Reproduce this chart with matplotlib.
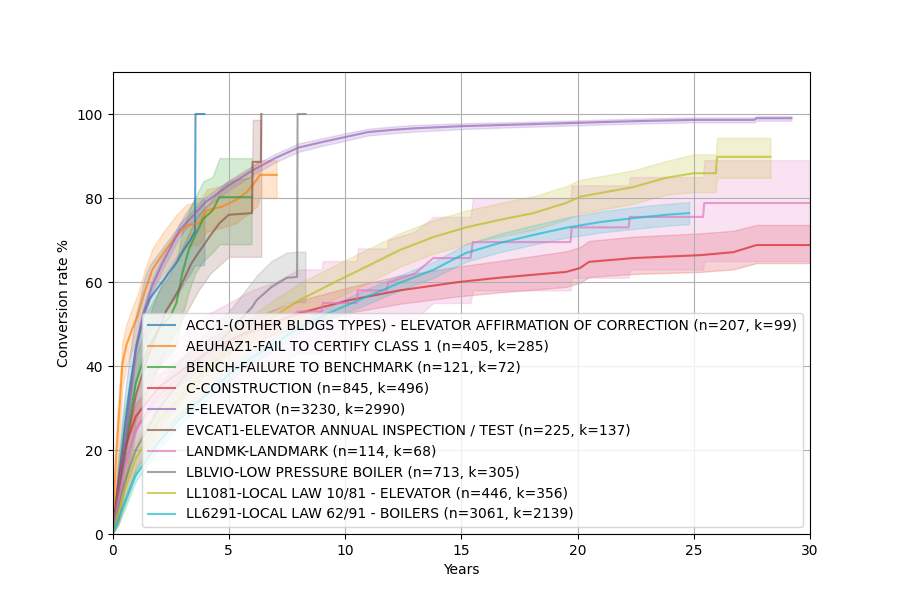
import matplotlib
matplotlib.use("Agg")
import matplotlib.pyplot as plt

labels = [
    "ACC1-(OTHER BLDGS TYPES) - ELEVATOR AFFIRMATION OF CORRECTION (n=207, k=99)",
    "AEUHAZ1-FAIL TO CERTIFY CLASS 1 (n=405, k=285)",
    "BENCH-FAILURE TO BENCHMARK (n=121, k=72)",
    "C-CONSTRUCTION (n=845, k=496)",
    "E-ELEVATOR (n=3230, k=2990)",
    "EVCAT1-ELEVATOR ANNUAL INSPECTION / TEST (n=225, k=137)",
    "LANDMK-LANDMARK (n=114, k=68)",
    "LBLVIO-LOW PRESSURE BOILER (n=713, k=305)",
    "LL1081-LOCAL LAW 10/81 - ELEVATOR (n=446, k=356)",
    "LL6291-LOCAL LAW 62/91 - BOILERS (n=3061, k=2139)",
]

# years, conversion %, lower / upper confidence band
acc1_t = [0, 0.25, 0.5, 0.75, 1.0, 1.38, 1.6, 2.0, 2.4, 2.8, 3.1, 3.35, 3.55, 3.57, 3.95]
acc1_y = [0, 12, 24, 35, 44, 53, 56, 59, 62, 65, 68, 70, 72, 100, 100]
acc1_lo = [0, 6, 16, 27, 36, 45, 48, 51, 54, 57, 60, 62, 64, 64, 64]
acc1_hi = [0, 18, 32, 43, 52, 61, 64, 67, 70, 73, 76, 78, 80, 80, 80]

aeu_t = [0, 0.15, 0.3, 0.43, 0.6, 0.86, 1.08, 1.4, 1.72, 2.2, 2.75, 3.2, 3.74, 4.05, 4.73, 5.3, 5.77, 6.2, 6.33, 7.06]
aeu_y = [0, 18, 30, 40.7, 45, 49, 52, 58, 63, 67, 71, 73.5, 74, 77, 78, 79.5, 81.4, 84.3, 85.5, 85.5]
aeu_lo = [0, 12, 24, 35, 40, 44, 47, 53, 58, 62, 66, 68.5, 69, 72, 73, 74, 76, 78, 80, 80]
aeu_hi = [0, 24, 36, 46, 50, 54, 57, 63, 68, 72, 76, 78.5, 79, 82, 83, 85, 86.5, 88.5, 89, 89]

bench_t = [0, 0.25, 0.5, 0.73, 1.0, 1.5, 2.0, 2.5, 2.75, 3.0, 3.3, 3.55, 3.9, 4.3, 4.6, 5.98]
bench_y = [0, 10, 20, 27, 36, 44, 49, 52, 55, 62, 68, 71, 75, 77, 80.2, 80.2]
bench_lo = [0, 3, 11, 18, 27, 35, 40, 43, 45, 52, 58, 62, 65, 67, 69, 69]
bench_hi = [0, 17, 29, 36, 45, 53, 58, 62, 65, 72, 77, 80, 84, 85, 89.5, 89.5]

c_t = [0, 0.25, 0.5, 1, 2, 3, 4, 5, 6, 7, 8.05, 10.2, 12.35, 14.9, 16.6, 19.5, 20.1, 20.5, 22.4, 25.3, 26.7, 27.7, 30]
c_y = [0, 12, 20, 28, 35, 39, 43, 46, 48.5, 50.5, 52.6, 55.7, 58, 60, 61, 62.4, 63.3, 64.8, 65.7, 66.4, 67.1, 68.8, 68.8]
c_lo = [0, 9, 17, 25, 32, 36, 40, 43, 45.5, 47.5, 49.6, 52.7, 54.8, 56.6, 57.5, 58.8, 59.8, 61.2, 61.9, 62.4, 63, 64.5, 64.5]
c_hi = [0, 15, 23, 31, 38, 42, 46, 49, 51.5, 53.5, 55.6, 58.8, 61.5, 63.7, 65, 67.3, 68.3, 69.8, 70.8, 71.6, 72.2, 73.6, 73.6]

e_t = [0, 0.25, 0.5, 0.75, 1.0, 1.3, 1.7, 2.15, 2.9, 3.5, 4.0, 5.0, 6.0, 7.0, 8.0, 9.0, 10.0, 11.0, 12.0, 13.0, 15.0, 17.5, 20.0, 22.5, 25.0, 27.6, 27.7, 29.2]
e_y = [0, 10, 20, 32, 44, 52, 59, 64.5, 72.5, 76, 79, 83, 86.5, 89.5, 92, 93.3, 94.5, 95.7, 96.2, 96.6, 97.1, 97.5, 97.9, 98.3, 98.6, 98.6, 99, 99]
e_lo = [0, 8.5, 18.5, 30.5, 42.5, 50.5, 57.5, 63, 71, 74.7, 77.7, 81.8, 85.4, 88.5, 91, 92.4, 93.6, 94.9, 95.4, 95.8, 96.4, 96.9, 97.3, 97.7, 98, 98, 98.4, 98.4]
e_hi = [0, 11.5, 21.5, 33.5, 45.5, 53.5, 60.5, 66, 74, 77.3, 80.3, 84.2, 87.6, 90.5, 93, 94.2, 95.4, 96.5, 97, 97.4, 97.8, 98.1, 98.5, 98.9, 99.2, 99.2, 99.5, 99.5]

ev_t = [0, 0.25, 0.5, 1.0, 1.5, 2.0, 2.3, 2.9, 3.4, 3.7, 4.2, 4.6, 5.0, 6.0, 6.03, 6.38, 6.4]
ev_y = [0, 9, 18, 33, 42, 49, 53, 58.6, 64.5, 67, 71, 74, 76, 76.4, 88.6, 88.6, 100]
ev_lo = [0, 3, 10, 24, 33, 40, 44, 50, 55, 58, 62, 64, 66, 66, 66, 66, 66]
ev_hi = [0, 15, 26, 42, 51, 58, 62, 67, 73, 76, 79, 82, 84, 85, 98.6, 98.6, 98.6]

land_t = [0, 0.25, 0.5, 1, 2, 3, 4, 5, 6, 7, 8, 9.0, 9.04, 10.5, 10.55, 11.8, 11.85, 13.0, 13.8, 15.4, 15.5, 19.7, 19.75, 22.2, 22.25, 25.4, 25.45, 30]
land_y = [0, 8, 15, 25, 33, 38, 43, 45, 48, 50, 53, 53, 55, 55, 58, 58, 59.8, 62, 65.7, 65.7, 69.5, 69.5, 73, 73, 75.5, 75.5, 78.8, 78.8]
land_lo = [0, 2, 7, 16, 24, 29, 33, 35, 38, 40, 43, 43, 45, 45, 48, 48, 49, 51, 55, 55, 58, 58, 61, 61, 63, 63, 65, 65]
land_hi = [0, 15, 24, 34, 42, 47, 52, 55, 58, 60, 63, 63, 65, 65, 68, 68, 70, 72, 75.5, 75.5, 80, 80, 83, 83, 85, 85, 89, 89]

lbl_t = [0, 0.25, 0.5, 1, 2, 3, 4, 5, 5.5, 6.0, 6.2, 6.84, 7.5, 7.94, 7.96, 8.3]
lbl_y = [0, 6, 12, 20, 30, 37, 43, 48, 51, 54, 55.7, 58.8, 61, 61.2, 100, 100]
lbl_lo = [0, 3, 8, 15, 25, 32, 38, 43, 45.5, 48.5, 50, 53, 55, 55.2, 55.2, 55.2]
lbl_hi = [0, 9, 16, 25, 35, 42, 48, 53, 56.5, 60, 61.5, 65, 67, 67.2, 67.2, 67.2]

ll81_t = [0, 0.25, 0.5, 1, 2, 3, 4, 5, 6, 7, 8.05, 9.5, 10.9, 12.35, 13.8, 15.2, 16.66, 18.1, 19.5, 20.1, 21, 22.4, 23.8, 25, 25.95, 26, 28.3]
ll81_y = [0, 5, 10, 18, 27, 33, 39, 44, 48, 52, 55.7, 59.8, 63.6, 67.6, 70.7, 73, 74.8, 76.4, 78.8, 80.3, 81.2, 82.6, 84.8, 85.9, 85.9, 89.8, 89.8]
ll81_lo = [0, 2, 6, 14, 23, 29, 35, 40, 44, 48, 51.7, 55.8, 59.6, 63.6, 66.7, 69, 70.8, 72.4, 74.8, 76.3, 77.2, 78.6, 80.8, 81.4, 81.4, 84.8, 84.8]
ll81_hi = [0, 8, 14, 22, 31, 37, 43, 48, 52, 56, 59.7, 63.8, 67.6, 71.6, 74.7, 77, 78.8, 80.4, 82.8, 84.3, 85.2, 86.6, 88.8, 90.4, 90.4, 94.3, 94.3]

ll62_t = [0, 0.25, 0.5, 1, 2, 3, 4, 5, 6, 7, 8, 9.3, 10.9, 12.35, 13.8, 15.2, 16.66, 18.1, 19.5, 21, 22.4, 23.8, 24.8]
ll62_y = [0, 3.5, 7, 14, 22, 28, 33, 38, 42, 45.5, 49, 52.6, 56.4, 59.8, 62.9, 66.9, 69.3, 71.2, 72.9, 74.3, 75.2, 76, 76.4]
ll62_lo = [0, 2.5, 5.5, 12.5, 20.5, 26.5, 31.5, 36.5, 40.5, 44, 47.5, 51, 54.6, 58, 61, 64.8, 67.1, 68.9, 70.5, 71.8, 72.6, 73.4, 73.8]
ll62_hi = [0, 4.5, 8.5, 15.5, 23.5, 29.5, 34.5, 39.5, 43.5, 47, 50.5, 54.2, 58.2, 61.6, 64.8, 69, 71.5, 73.5, 75.3, 76.8, 77.8, 78.6, 79]

series = [
    (acc1_t, acc1_y, acc1_lo, acc1_hi),
    (aeu_t, aeu_y, aeu_lo, aeu_hi),
    (bench_t, bench_y, bench_lo, bench_hi),
    (c_t, c_y, c_lo, c_hi),
    (e_t, e_y, e_lo, e_hi),
    (ev_t, ev_y, ev_lo, ev_hi),
    (land_t, land_y, land_lo, land_hi),
    (lbl_t, lbl_y, lbl_lo, lbl_hi),
    (ll81_t, ll81_y, ll81_lo, ll81_hi),
    (ll62_t, ll62_y, ll62_lo, ll62_hi),
]

fig, ax = plt.subplots(figsize=(9, 6), dpi=100)
for i, (label, (t, y, lo, hi)) in enumerate(zip(labels, series)):
    color = f"C{i}"
    ax.plot(t, y, color=color, linewidth=1.5, alpha=0.7, label=label)
    ax.fill_between(t, lo, hi, color=color, alpha=0.2)

ax.set_xlim(0, 30)
ax.set_ylim(0, 110)
ax.set_xlabel("Years")
ax.set_ylabel("Conversion rate %")
ax.grid(True)
ax.legend(loc="lower right")
fig.savefig("out.png", dpi=100)
